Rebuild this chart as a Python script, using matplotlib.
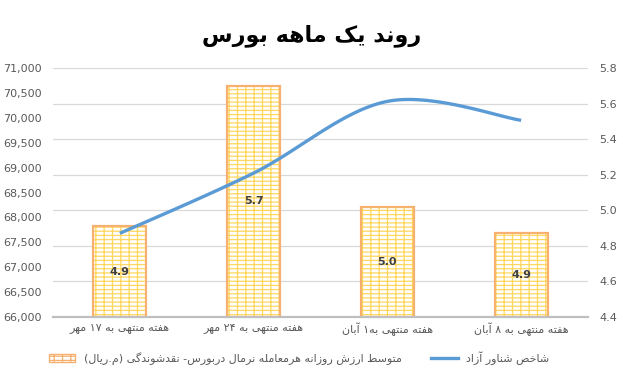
import re
import numpy as np
import matplotlib
matplotlib.use('Agg')
import matplotlib.pyplot as plt
from matplotlib.patches import Patch
from matplotlib.lines import Line2D
from matplotlib.ticker import FuncFormatter

# data
weeks = ['هفته منتهی به ۱۷ مهر', 'هفته منتهی به ۲۴ مهر', 'هفته منتهی به۱ آبان', 'هفته منتهی به ۸ آبان']
trade_value = [4.91, 5.70, 5.02, 4.87]          # bars, right axis (million rial)
trade_labels = ['4.9', '5.7', '5.0', '4.9']
free_float = [67680, 68890, 70330, 69950]       # line, left axis
title = 'روند یک ماهه بورس'
bar_name = 'متوسط ارزش روزانه هرمعامله نرمال دربورس- نقدشوندگی (م.ریال)'
line_name = 'شاخص شناور آزاد'

# --- minimal Persian shaping + RTL reordering (matplotlib does neither) ---
FORMS = {  # isolated, final, initial, medial
    'ا': (0xFE8D, 0xFE8E), 'آ': (0xFE81, 0xFE82), 'د': (0xFEA9, 0xFEAA),
    'ذ': (0xFEAB, 0xFEAC), 'ر': (0xFEAD, 0xFEAE), 'ز': (0xFEAF, 0xFEB0),
    'ژ': (0xFB8A, 0xFB8B), 'و': (0xFEED, 0xFEEE),
    'ب': (0xFE8F, 0xFE90, 0xFE91, 0xFE92), 'ت': (0xFE95, 0xFE96, 0xFE97, 0xFE98),
    'خ': (0xFEA5, 0xFEA6, 0xFEA7, 0xFEA8), 'س': (0xFEB1, 0xFEB2, 0xFEB3, 0xFEB4),
    'ش': (0xFEB5, 0xFEB6, 0xFEB7, 0xFEB8), 'ص': (0xFEB9, 0xFEBA, 0xFEBB, 0xFEBC),
    'ط': (0xFEC1, 0xFEC2, 0xFEC3, 0xFEC4), 'ع': (0xFEC9, 0xFECA, 0xFECB, 0xFECC),
    'ف': (0xFED1, 0xFED2, 0xFED3, 0xFED4), 'ق': (0xFED5, 0xFED6, 0xFED7, 0xFED8),
    'ل': (0xFEDD, 0xFEDE, 0xFEDF, 0xFEE0), 'م': (0xFEE1, 0xFEE2, 0xFEE3, 0xFEE4),
    'ن': (0xFEE5, 0xFEE6, 0xFEE7, 0xFEE8), 'ه': (0xFEE9, 0xFEEA, 0xFEEB, 0xFEEC),
    'ک': (0xFB8E, 0xFB8F, 0xFB90, 0xFB91), 'گ': (0xFB92, 0xFB93, 0xFB94, 0xFB95),
    'ی': (0xFBFC, 0xFBFD, 0xFBFE, 0xFBFF),
}
MIRROR = {'(': ')', ')': '('}


def shape(s):
    out = []
    for i, ch in enumerate(s):
        if ch not in FORMS:
            out.append(ch)
            continue
        prev = s[i - 1] if i > 0 else ''
        nxt = s[i + 1] if i + 1 < len(s) else ''
        jp = prev in FORMS and len(FORMS[prev]) == 4
        jn = nxt in FORMS and len(FORMS[ch]) == 4
        f = FORMS[ch]
        if jp and jn:
            out.append(chr(f[3]))
        elif jp:
            out.append(chr(f[1]))
        elif jn:
            out.append(chr(f[2]))
        else:
            out.append(chr(f[0]))
    return ''.join(out)


def fa(s):
    runs = re.findall(r'[0-9۰-۹]+|[^0-9۰-۹]+', shape(s))
    vis = []
    for r in reversed(runs):
        if r[0].isdigit():
            vis.append(r)
        else:
            vis.append(''.join(MIRROR.get(c, c) for c in reversed(r)))
    return ''.join(vis)


plt.rcParams['font.family'] = ['DejaVu Sans']
plt.rcParams['hatch.linewidth'] = 0.9

grey = '#595959'
fig = plt.figure(figsize=(6.23, 3.87), dpi=100)
ax = fig.add_axes([53 / 623, 1 - 317 / 387, 535 / 623, 249 / 387])
ax2 = ax.twinx()

x = np.arange(len(weeks))
ymin2 = 4.4

# bars on the right axis, behind the line
ax2.set_zorder(1)
ax.set_zorder(2)
ax.patch.set_visible(False)
bars = ax2.bar(x, np.array(trade_value) - ymin2, bottom=ymin2, width=0.395,
               color='white', edgecolor='#FFD75E', hatch='----||', linewidth=0, zorder=2)
ax2.bar(x, np.array(trade_value) - ymin2, bottom=ymin2, width=0.395,
        color='none', edgecolor='#F6B070', linewidth=1.6, zorder=3)
ax2.bar_label(bars, labels=trade_labels, label_type='center', fontsize=8,
              color='#404040', fontweight='bold')


# smoothed line (bezier through the points, like the spreadsheet's smooth line)
def smooth(xs, ys, n=40):
    p = np.column_stack([xs, ys]).astype(float)
    segs = []
    for i in range(len(p) - 1):
        p0 = p[i - 1] if i > 0 else p[i]
        p3 = p[i + 2] if i + 2 < len(p) else p[i + 1]
        c1 = p[i] + (p[i + 1] - p0) / 6
        c2 = p[i + 1] - (p3 - p[i]) / 6
        t = np.linspace(0, 1, n)[:, None]
        seg = (1 - t) ** 3 * p[i] + 3 * (1 - t) ** 2 * t * c1 + 3 * (1 - t) * t ** 2 * c2 + t ** 3 * p[i + 1]
        segs.append(seg if i == 0 else seg[1:])
    return np.vstack(segs)


curve = smooth(x, free_float)
ax.plot(curve[:, 0], curve[:, 1], color='#5B9BD5', lw=2.4, solid_capstyle='butt')

ax.set_xlim(-0.5, len(weeks) - 0.5)
ax.set_ylim(66000, 71000)
ax.set_yticks(np.arange(66000, 71001, 500))
ax.yaxis.set_major_formatter(FuncFormatter(lambda v, p: f'{v:,.0f}'))
ax2.set_ylim(ymin2, 5.8)
ax2.set_yticks(np.arange(4.4, 5.81, 0.2))
ax2.yaxis.set_major_formatter(FuncFormatter(lambda v, p: f'{v:.1f}'))
ax2.grid(axis='y', color='#D9D9D9', lw=0.9)
ax2.set_axisbelow(True)

ax.set_xticks(x)
ax.set_xticklabels([fa(w) for w in weeks])
for a in (ax, ax2):
    for s in a.spines.values():
        s.set_visible(False)
    a.tick_params(length=0, labelsize=8, colors=grey)
ax.spines['bottom'].set_visible(True)
ax.spines['bottom'].set_color('#BFBFBF')
ax.spines['bottom'].set_linewidth(1.6)
ax.tick_params(axis='y', pad=8)
ax2.tick_params(axis='y', pad=8)
ax.tick_params(axis='x', pad=4)

fig.text(0.5, 1 - 36 / 387, fa(title), ha='center', va='center', fontsize=16, fontweight='bold')

handles = [Patch(facecolor='white', edgecolor='#F6B070', hatch='----||', linewidth=1),
           Line2D([], [], color='#5B9BD5', lw=2.4)]
fig.legend(handles, [fa(bar_name), fa(line_name)], loc='center', bbox_to_anchor=(0.48, 1 - 358 / 387),
           ncol=2, frameon=False, fontsize=8, labelcolor=grey, handlelength=2.4, columnspacing=2.6)

fig.savefig('out.png', dpi=100)
